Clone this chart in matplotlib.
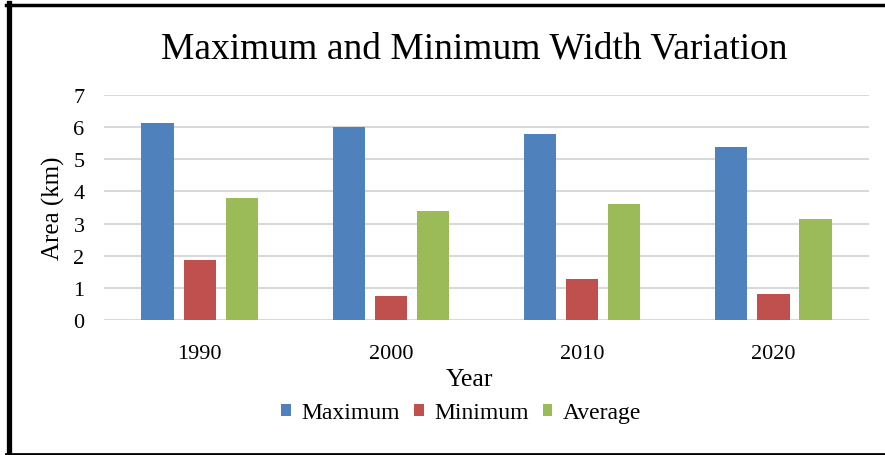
import numpy as np
import matplotlib
matplotlib.use("Agg")
import matplotlib.pyplot as plt
from matplotlib.lines import Line2D

years = ["1990", "2000", "2010", "2020"]
maximum = [6.12, 6.00, 5.79, 5.39]
minimum = [1.87, 0.75, 1.28, 0.82]
average = [3.80, 3.40, 3.60, 3.14]

plt.rcParams['font.family'] = ['Liberation Serif', 'DejaVu Serif']

fig = plt.figure(figsize=(8.85, 4.56), dpi=100)
ax = fig.add_axes([0.1175, 0.2954, 0.8645, 0.4946])

x = np.arange(len(years))
w = 0.168
step = 0.22
ax.bar(x - step, maximum, w, color="#4F81BD", label="Maximum", zorder=3)
ax.bar(x, minimum, w, color="#C0504D", label="Minimum", zorder=3)
ax.bar(x + step, average, w, color="#9BBB59", label="Average", zorder=3)

ax.set_xlim(-0.5, 3.5)
ax.set_ylim(0, 7)
ax.set_yticks(range(0, 8))
ax.set_xticks(x)
ax.set_xticklabels(years)
ax.tick_params(axis='y', length=0, labelsize=16, pad=14)
ax.tick_params(axis='x', length=0, labelsize=16, pad=17)
ax.grid(axis='y', color="#D9D9D9", linewidth=1.5, zorder=0)
for s in ax.spines.values():
    s.set_visible(False)

ax.set_title("Maximum and Minimum Width Variation", fontsize=27, pad=27, x=0.484)
ax.set_xlabel("Year", fontsize=18.5, labelpad=4, x=0.478)
ax.set_ylabel("Area (km)", fontsize=18, labelpad=6)

ax.legend(loc="upper center", bbox_to_anchor=(0.467, -0.27), ncol=3, frameon=False,
          fontsize=17, handlelength=0.4, handleheight=0.45, handletextpad=0.45,
          columnspacing=0.6)

# black frame around the picture
fig.add_artist(Line2D([8.5/885, 8.5/885], [0, 1 - 4/456], color="black", lw=3.8, transform=fig.transFigure))
fig.add_artist(Line2D([6/885, 1], [1 - 5.5/456, 1 - 5.5/456], color="black", lw=2.5, transform=fig.transFigure))
fig.add_artist(Line2D([6/885, 1], [1/456, 1/456], color="black", lw=2, transform=fig.transFigure))

fig.savefig("out.png", dpi=100)
